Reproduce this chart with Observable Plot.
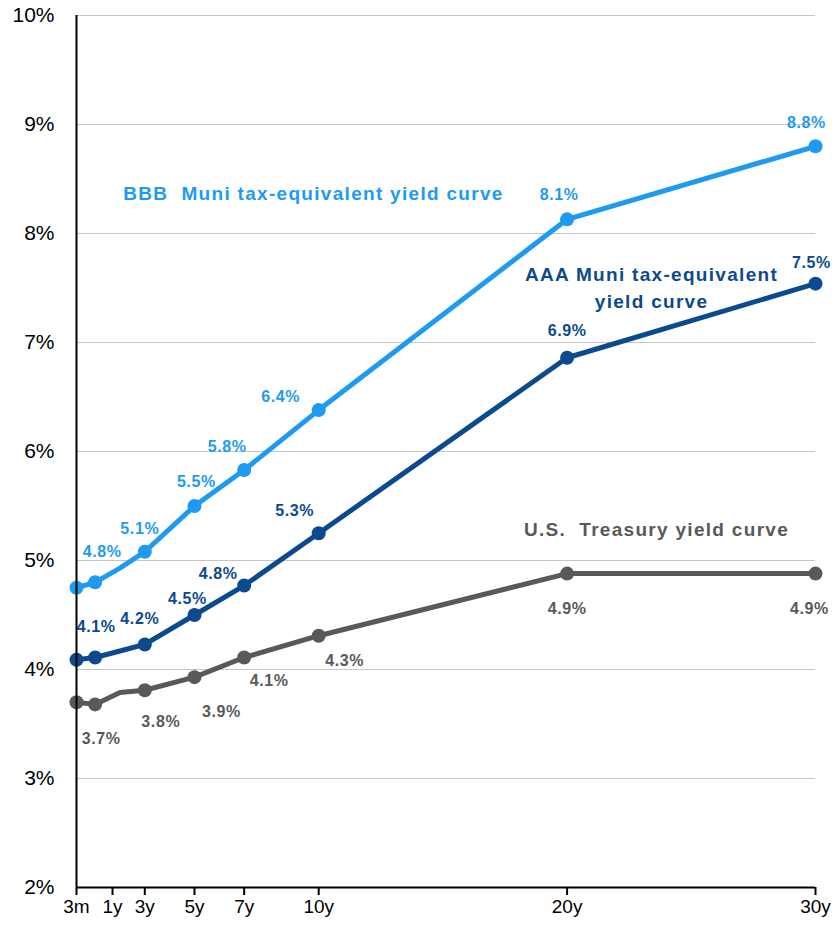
<!DOCTYPE html>
<html><head><meta charset="utf-8">
<script src="https://cdn.jsdelivr.net/npm/d3@7"></script>
<script src="https://cdn.jsdelivr.net/npm/@observablehq/plot@0.6"></script>
<style>
body{margin:0;background:#fff;font-family:"Liberation Sans",Arial,sans-serif}
#chart svg{display:block}
</style>
</head><body><div id="chart"></div>
<script>
// ---- data ----
const tenors = [0.25, 1, 2, 3, 5, 7, 10, 20, 30];
const bbbYield = [4.75, 4.80, 4.93, 5.08, 5.50, 5.83, 6.38, 8.13, 8.80];
const aaaYield = [4.09, 4.11, 4.17, 4.23, 4.50, 4.77, 5.25, 6.86, 7.54];
const treasuryYield = [3.70, 3.68, 3.79, 3.81, 3.93, 4.11, 4.31, 4.88, 4.88];
const markedTenors = [0.25, 1, 3, 5, 7, 10, 20, 30];
const labeledTenors = [1, 3, 5, 7, 10, 20, 30];
const xTickValues = [0.25, 1.7, 3, 5, 7, 10, 20, 30];
const xTickLabels = ["3m", "1y", "3y", "5y", "7y", "10y", "20y", "30y"];
const yTickValues = [2, 3, 4, 5, 6, 7, 8, 9, 10];
const seriesNames = ["BBB  Muni tax-equivalent yield curve", "AAA Muni tax-equivalent\nyield curve", "U.S.  Treasury yield curve"];

// ---- layout / style ----
const colors = {bbb: "#1e9bf0", aaa: "#0b4a8e", tsy: "#58595b"};
const labelOffsets = {
  bbb: [[7,-30],[-5,-23],[2,-24],[-17,-23],[-38,-13],[-8,-24],[-9,-23]],
  aaa: [[1,-31],[-5,-26],[-7,-16],[-26,-12],[-24,-22],[0,-27],[-4,-21]],
  tsy: [[6,34],[16,32],[27,35],[25,23],[26,25],[0,35],[-6,35]]
};
const annotations = [
  {key: "bbb", name: seriesNames[0], x: 9.79, y: 8.39},
  {key: "aaa", name: seriesNames[1], x: 23.4, y: 7.52},
  {key: "tsy", name: seriesNames[2], x: 23.6, y: 5.30}
];

const series = [
  {key: "bbb", values: bbbYield},
  {key: "aaa", values: aaaYield},
  {key: "tsy", values: treasuryYield}
];

const marks = [];
marks.push(Plot.ruleY(yTickValues.slice(1), {stroke: "#c6c6c6", strokeWidth: 1}));
for (const s of series) {
  const rows = tenors.map((t, i) => ({t, v: s.values[i]}));
  marks.push(Plot.line(rows, {x: "t", y: "v", stroke: colors[s.key], strokeWidth: 5, strokeLinejoin: "round"}));
  marks.push(Plot.dot(rows.filter(d => markedTenors.includes(d.t)), {x: "t", y: "v", r: 7, fill: colors[s.key]}));
  const lab = rows.filter(d => labeledTenors.includes(d.t));
  lab.forEach((d, i) => {
    const [dx, dy] = labelOffsets[s.key][i];
    marks.push(Plot.text([d], {x: "t", y: "v", text: d => d.v.toFixed(1) + "%", dx, dy,
      fill: colors[s.key], fontSize: 16, fontWeight: "bold", lineAnchor: "middle"}));
  });
}
for (const a of annotations) {
  marks.push(Plot.text([a], {x: "x", y: "y", text: "name", fill: colors[a.key], fontSize: 19,
    fontWeight: "bold", lineAnchor: "middle", lineHeight: 1.4}));
}
marks.push(Plot.ruleY([2], {stroke: "#000", strokeWidth: 2}));
marks.push(Plot.ruleX([0.25], {stroke: "#000", strokeWidth: 2}));
marks.push(Plot.axisY({ticks: yTickValues, tickSize: 0, tickPadding: 22, tickFormat: d => d + "%",
  fontSize: 21, label: null, fill: "#000"}));
marks.push(Plot.axisX({ticks: xTickValues, tickFormat: (d, i) => xTickLabels[xTickValues.indexOf(d)],
  tickSize: 8, tickPadding: 4, fontSize: 19, label: null, stroke: "#000", strokeWidth: 2, fill: "#000"}));

const chart = Plot.plot({
  width: 832, height: 927,
  marginLeft: 76, marginRight: 17, marginTop: 15, marginBottom: 40,
  style: {fontFamily: "'Liberation Sans', Arial, sans-serif", background: "#fff", color: "#000"},
  x: {type: "linear", domain: [0.25, 30]},
  y: {domain: [2, 10]},
  marks
});
d3.select(chart).selectAll('g[font-size="19"][font-weight="bold"]').style("letter-spacing", "1.3px");
d3.select(chart).selectAll('g[font-size="16"]').style("letter-spacing", "0.6px");
document.getElementById("chart").appendChild(chart);
</script>
</body></html>
